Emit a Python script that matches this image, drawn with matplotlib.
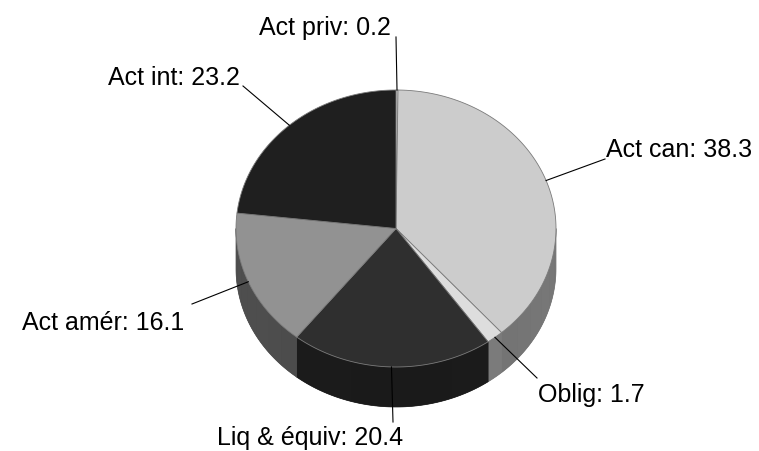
import numpy as np
import matplotlib
matplotlib.use("Agg")
import matplotlib.pyplot as plt
from matplotlib.patches import Polygon

# ----- data (clockwise from 12 o'clock) -----
labels = ["Act priv", "Act can", "Oblig", "Liq & équiv", "Act amér", "Act int"]
values = [0.2, 38.3, 1.7, 20.4, 16.1, 23.2]
top_colors = ["#f4f4f4", "#cccccc", "#dddddd", "#2f2f2f", "#929292", "#1f1f1f"]
side_colors = ["#9a9a9a", "#727272", "#7a7a7a", "#1b1b1b", "#4b4b4b", "#151515"]

# label text placement (pixel coords, left/baseline) and leader end points
label_xy = [(259, 35), (606, 157), (538, 402), (217, 445), (22, 330), (108, 85)]
leader_end = [(396, 37), (605, 159), (537, 378), (393, 422), (192, 304), (243, 86)]

# ----- pie geometry (pixels) -----
cx, cy = 396, 228.5
rx, ry = 160, 138.5
depth = 40

plt.rcParams["font.family"] = ["Liberation Sans", "DejaVu Sans"]
fig = plt.figure(figsize=(7.59, 4.51), dpi=100)
ax = fig.add_axes([0, 0, 1, 1])
ax.set_xlim(0, 759)
ax.set_ylim(451, 0)
ax.axis("off")

fr = np.array(values) / np.sum(values)
ends = 90 - 360 * np.cumsum(fr)
starts = np.concatenate([[90], ends[:-1]])


def ell(t):
    t = np.radians(t)
    return cx + rx * np.cos(t), cy - ry * np.sin(t)


def wall(e0, e1, color, lw=0.0):
    ts = np.linspace(e0, e1, max(int(abs(e0 - e1)), 2))
    xs, ys = ell(ts)
    pts = np.column_stack([np.concatenate([xs, xs[::-1]]),
                           np.concatenate([ys, ys[::-1] + depth])])
    ax.add_patch(Polygon(pts, closed=True, facecolor=color,
                         edgecolor=color, lw=lw))


# side walls: only the front half (angles -180..0)
for a0, a1, col in zip(starts, ends, side_colors):
    for off in (0, 360, -360):
        hi, lo = min(a0 + off, 0), max(a1 + off, -180)
        if hi <= lo:
            continue
        base = np.array(matplotlib.colors.to_rgb(col))
        wall(hi, lo, base, lw=0.5)
        n = max(int((hi - lo) / 7), 1)
        edges = np.linspace(hi, lo, n + 1)
        for e0, e1 in zip(edges[:-1], edges[1:]):
            tm = np.radians((e0 + e1) / 2)
            shade = np.clip(base * (0.95 + 0.1 * abs(np.cos(tm))), 0, 1)
            wall(e0, e1, shade)

# top face
for a0, a1, col in zip(starts, ends, top_colors):
    ts = np.linspace(a0, a1, max(int(abs(a0 - a1)), 2))
    xs, ys = ell(ts)
    pts = np.column_stack([np.concatenate([[cx], xs]), np.concatenate([[cy], ys])])
    ax.add_patch(Polygon(pts, closed=True, facecolor=col,
                         edgecolor="#7a7a7a", lw=0.6, joinstyle="round"))

# labels with leader lines from the mid-angle of each slice
for lab, v, a0, a1, (tx, ty), (lx, ly) in zip(labels, values, starts, ends,
                                              label_xy, leader_end):
    px, py = ell((a0 + a1) / 2)
    ax.plot([px, lx], [py, ly], color="black", lw=0.8)
    ax.text(tx, ty, f"{lab}: {v}", fontsize=18, ha="left", va="baseline",
            color="black")

fig.savefig("out.png", dpi=100)
